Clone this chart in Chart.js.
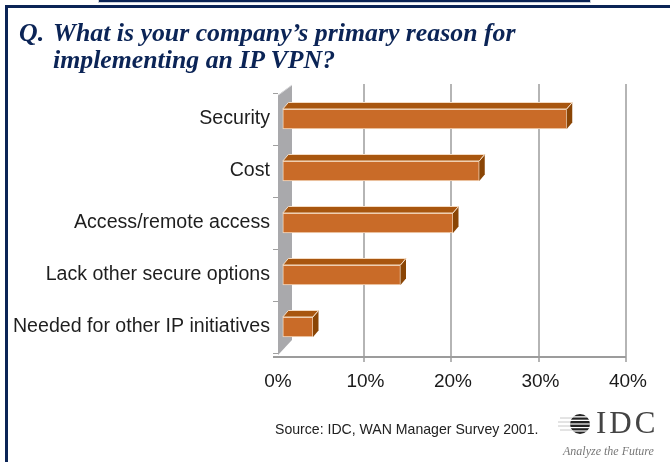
<!DOCTYPE html>
<html>
<head>
<meta charset="utf-8">
<script src="https://cdn.jsdelivr.net/npm/chart.js@4"></script>
<style>
  html, body { margin: 0; padding: 0; background: #fff; }
  #wrap { position: relative; width: 670px; height: 462px; overflow: hidden; }
  #chart { position: absolute; left: 0; top: 0; }
  .tab { position: absolute; left: 98px; top: -1px; width: 491px; height: 3px; background: #0b2456; border: 1px solid #c9d0dc; border-top: none; }
  .rule-top { position: absolute; left: 5px; top: 5px; width: 665px; height: 3px; background: #0b2456; }
  .rule-left { position: absolute; left: 5px; top: 5px; width: 3px; height: 457px; background: #0b2456; }
  .q, .title { position: absolute; font: italic bold 25.8px "Liberation Serif", serif; color: #0b2456; line-height: 27px; white-space: nowrap; }
  .q { left: 19px; top: 19px; }
  .title { left: 53px; top: 19px; }
  .source { position: absolute; left: 275px; top: 421px; font: 14.1px "Liberation Sans", Arial, sans-serif; color: #222; white-space: nowrap; }
  .idc { position: absolute; left: 596px; top: 405px; font: 31px "Liberation Serif", serif; color: #444; letter-spacing: 3px; }
  .tag { position: absolute; left: 563px; top: 444px; font: italic 12px "Liberation Serif", serif; color: #777; white-space: nowrap; }
  #globe { position: absolute; left: 558px; top: 412px; }
</style>
</head>
<body>
<div id="wrap">
  <canvas id="chart" width="670" height="462"></canvas>
  <div class="tab"></div>
  <div class="rule-top"></div>
  <div class="rule-left"></div>
  <div class="q">Q.</div>
  <div class="title">What is your company’s primary reason for<br>implementing an IP VPN?</div>
  <div class="source">Source: IDC, WAN Manager Survey 2001.</div>
  <svg id="globe" width="34" height="24" viewBox="0 0 34 24">
    <defs><clipPath id="ball"><circle cx="22" cy="12" r="10"/></clipPath></defs>
    <g stroke="#c8c8c8" stroke-width="1">
      <line x1="2" y1="6" x2="14" y2="6"/><line x1="0" y1="10" x2="14" y2="10"/>
      <line x1="0" y1="14" x2="14" y2="14"/><line x1="2" y1="18" x2="14" y2="18"/>
    </g>
    <g clip-path="url(#ball)">
      <rect x="10" y="2" width="24" height="20" fill="#fff"/>
      <rect x="10" y="2" width="24" height="2.2" fill="#222"/>
      <rect x="10" y="5.5" width="24" height="2.2" fill="#222"/>
      <rect x="10" y="9" width="24" height="2.4" fill="#222"/>
      <rect x="10" y="12.6" width="24" height="2.4" fill="#222"/>
      <rect x="10" y="16.2" width="24" height="2.2" fill="#222"/>
      <rect x="10" y="19.6" width="24" height="2.4" fill="#222"/>
    </g>
  </svg>
  <div class="idc">IDC</div>
  <div class="tag">Analyze the Future</div>
</div>
<script>
// survey answers, share of respondents (%)
const reasons = ['Security', 'Cost', 'Access/remote access', 'Lack other secure options', 'Needed for other IP initiatives'];
const shares = [33, 23, 20, 14, 4];
const pctTicks = [0, 10, 20, 30, 40];

const DEPTH_X = 5.5;
const DEPTH_Y = 6.5;

// back wall, gridlines and floor edge drawn before the bars
const backdrop = {
  id: 'backdrop',
  beforeDatasetsDraw(chart) {
    const { ctx, chartArea: a, scales } = chart;
    const xs = scales.x;
    ctx.save();
    ctx.strokeStyle = '#9c9c9c';
    ctx.lineWidth = 1.5;
    xs.ticks.forEach((t, i) => {
      if (i === 0) return;
      const px = Math.round(xs.getPixelForTick(i)) - 2;
      ctx.beginPath();
      ctx.moveTo(px, a.top - 9);
      ctx.lineTo(px, a.bottom + 9);
      ctx.stroke();
    });
    // left side wall
    ctx.fillStyle = '#a9a9ac';
    ctx.beginPath();
    ctx.moveTo(a.left, a.top + 2);
    ctx.lineTo(a.left + 14, a.top - 8);
    ctx.lineTo(a.left + 14, a.bottom - 13);
    ctx.lineTo(a.left, a.bottom + 2);
    ctx.closePath();
    ctx.fill();
    ctx.strokeStyle = '#d8d8da';
    ctx.lineWidth = 1;
    ctx.beginPath();
    ctx.moveTo(a.left + 0.5, a.top + 2);
    ctx.lineTo(a.left + 14, a.top - 8);
    ctx.stroke();
    // floor edge
    ctx.strokeStyle = '#9c9c9c';
    ctx.lineWidth = 2;
    ctx.beginPath();
    ctx.moveTo(a.left - 5, a.bottom + 4);
    ctx.lineTo(xs.getPixelForValue(40) - 2, a.bottom + 4);
    ctx.stroke();
    ctx.restore();
  }
};

// top and side faces of each bar
const barFaces = {
  id: 'barFaces',
  afterDatasetsDraw(chart) {
    const { ctx } = chart;
    const meta = chart.getDatasetMeta(0);
    ctx.save();
    ctx.lineWidth = 1;
    ctx.strokeStyle = '#f4dcc4';
    meta.data.forEach(bar => {
      const { x, y, base, height } = bar.getProps(['x', 'y', 'base', 'height'], true);
      const top = y - height / 2;
      const bot = y + height / 2;
      ctx.fillStyle = '#a8560f';
      ctx.beginPath();
      ctx.moveTo(base, top);
      ctx.lineTo(base + DEPTH_X, top - DEPTH_Y);
      ctx.lineTo(x + DEPTH_X, top - DEPTH_Y);
      ctx.lineTo(x, top);
      ctx.closePath();
      ctx.fill();
      ctx.stroke();
      ctx.fillStyle = '#8a4505';
      ctx.beginPath();
      ctx.moveTo(x, top);
      ctx.lineTo(x + DEPTH_X, top - DEPTH_Y);
      ctx.lineTo(x + DEPTH_X, bot - DEPTH_Y);
      ctx.lineTo(x, bot);
      ctx.closePath();
      ctx.fill();
      ctx.beginPath();
      ctx.moveTo(x + DEPTH_X, top - DEPTH_Y);
      ctx.lineTo(x, top);
      ctx.stroke();
    });
    ctx.restore();
  }
};

new Chart(document.getElementById('chart'), {
  type: 'bar',
  data: {
    labels: reasons,
    datasets: [{
      data: shares,
      base: 0.55,
      backgroundColor: '#c96b28',
      borderColor: '#f4dcc4',
      borderWidth: 1,
      borderSkipped: false,
      barThickness: 20,
    }],
  },
  options: {
    indexAxis: 'y',
    responsive: false,
    animation: false,
    devicePixelRatio: 1,
    layout: { padding: { left: 0, top: 93, right: 42, bottom: 69 } },
    plugins: { legend: { display: false }, tooltip: { enabled: false } },
    scales: {
      x: {
        min: 0,
        max: 40,
        afterBuildTicks: s => { s.ticks = pctTicks.map(v => ({ value: v })); },
        afterFit: s => { s.height = 40; },
        grid: { display: false, drawTicks: false },
        border: { display: false },
        ticks: {
          padding: 17,
          color: '#1a1a1a',
          font: { family: 'Liberation Sans', size: 19 },
          callback: v => v + '%',
        },
      },
      y: {
        afterFit: s => { s.width = 278; },
        grid: { drawOnChartArea: false, drawTicks: true, tickLength: 5, color: '#a0a0a0', offset: true },
        border: { display: false },
        ticks: {
          padding: 3,
          color: '#1e1e1e',
          font: { family: 'Liberation Sans', size: 19.6 },
        },
      },
    },
  },
  plugins: [backdrop, barFaces],
});
</script>
</body>
</html>
